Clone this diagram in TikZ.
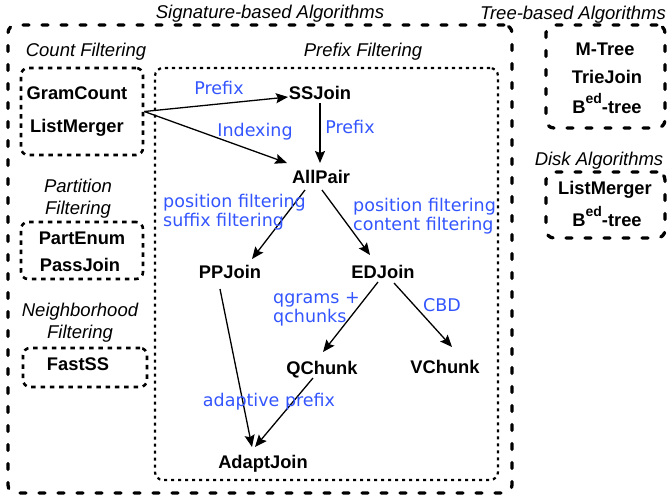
\documentclass[tikz,border=0pt]{standalone}
\usepackage{fontspec}
\setmainfont{Liberation Sans}
\newfontfamily\lblfont{DejaVu Sans}
\usetikzlibrary{arrows.meta}
\definecolor{lblblue}{RGB}{51,85,255}
\tikzset{
  heavybox/.style={draw, line width=3.3pt, dash pattern=on 6pt off 13pt, line cap=round, rounded corners=8pt, inner sep=0pt},
  medbox/.style={draw, line width=2.6pt, dash pattern=on 4.5pt off 4.8pt, rounded corners=7pt, inner sep=0pt},
  dotbox/.style={draw, line width=2.2pt, dash pattern=on 3.2pt off 3.8pt, rounded corners=8pt, inner sep=0pt},
  algo/.style={font=\fontsize{18.3}{20}\selectfont\bfseries, inner sep=0pt, text height=13.2pt, text depth=0pt},
  ttl/.style={font=\fontsize{18.5}{22}\selectfont\itshape, inner sep=0pt, align=center},
  ttlone/.style={ttl, text height=13.3pt, text depth=0pt},
  lbl/.style={font=\lblfont\fontsize{17.5}{19}\selectfont, text=lblblue, inner sep=0pt, align=left},
  lblone/.style={lbl, text height=12.7pt, text depth=0pt},
  arr/.style={-{Stealth[length=12pt,width=10pt,inset=2pt]}, line width=1.3pt},
}
\newcommand{\Bed}{B\raisebox{0.55em}{\fontsize{14}{14}\selectfont ed}-tree}
\begin{document}
\begin{tikzpicture}[x=1pt,y=-1pt]
\useasboundingbox (0,0) rectangle (669,499);
% boxes
\node[heavybox, minimum width=504pt, minimum height=468pt] (sigbox) at (260,259) {};
\node[heavybox, minimum width=119pt, minimum height=103pt] (treebox) at (605.5,76.5) {};
\node[heavybox, minimum width=119pt, minimum height=66pt] (diskbox) at (605.5,205) {};
\node[dotbox, minimum width=343pt, minimum height=412pt] (prefixbox) at (326.5,274) {};
\node[medbox, minimum width=122pt, minimum height=87pt] (countbox) at (82,111.5) {};
\node[medbox, minimum width=122pt, minimum height=57pt] (partbox) at (82,250.5) {};
\node[medbox, minimum width=124pt, minimum height=39pt] (fastbox) at (85,367.5) {};
% titles
\node[ttlone] (tsig) at (270,12) {Signature-based Algorithms};
\node[ttlone] (ttree) at (573,13) {Tree-based Algorithms};
\node[ttlone] (tdisk) at (599,159) {Disk Algorithms};
\node[ttlone] (tprefix) at (363,50) {Prefix Filtering};
\node[ttlone] (tcount) at (86,50) {Count Filtering};
\node[ttl, anchor=north] (tpart) at (78,179.3) {Partition\\Filtering};
\node[ttl, anchor=north] (tneigh) at (80,303.3) {Neighborhood\\Filtering};
% algorithms
\node[algo] (gramcount) at (77,93) {GramCount};
\node[algo] (listmerger) at (77,126) {ListMerger};
\node[algo] (partenum) at (82,238) {PartEnum};
\node[algo] (passjoin) at (80,265) {PassJoin};
\node[algo] (fastss) at (78,364) {FastSS};
\node[algo] (ssjoin) at (320,93) {SSJoin};
\node[algo] (allpair) at (321,177) {AllPair};
\node[algo] (ppjoin) at (230,272) {PPJoin};
\node[algo] (edjoin) at (383,272) {EDJoin};
\node[algo] (qchunk) at (322,368) {QChunk};
\node[algo] (vchunk) at (445,367) {VChunk};
\node[algo] (adaptjoin) at (263,462) {AdaptJoin};
\node[algo] (mtree) at (605,49) {M-Tree};
\node[algo] (triejoin) at (607,77) {TrieJoin};
\node[algo] (bedtree) at (607,107) {\Bed};
\node[algo] (listmerger2) at (605,188) {ListMerger};
\node[algo] (bedtree2) at (607,220) {\Bed};
% arrows
\draw[arr] (countbox.east) -- ([shift={(-32,4)}]ssjoin.center);
\draw[arr] (countbox.east) -- ([shift={(-34,-14)}]allpair.center);
\draw[arr] ([shift={(0,10)}]ssjoin.center) -- ([shift={(-1,-14)}]allpair.center);
\draw[arr] ([shift={(-16,13)}]allpair.center) -- ([shift={(22,-13)}]ppjoin.center);
\draw[arr] ([shift={(1,13)}]allpair.center) -- ([shift={(-13,-17)}]edjoin.center);
\draw[arr] ([shift={(-5,10)}]edjoin.center) -- ([shift={(1,-16)}]qchunk.center);
\draw[arr] ([shift={(11,11)}]edjoin.center) -- ([shift={(7,-20)}]vchunk.center);
\draw[arr] ([shift={(-10,17)}]ppjoin.center) -- ([shift={(-11,-15)}]adaptjoin.center);
\draw[arr] ([shift={(-9,10)}]qchunk.center) -- ([shift={(-8,-15)}]adaptjoin.center);
% labels
\node[lblone] (lprefix1) at (219,88) {Prefix};
\node[lblone] (lindex) at (255,130) {Indexing};
\node[lblone] (lprefix2) at (350,127) {Prefix};
\node[lbl, anchor=north west] (lpos1) at (163,194) {position filtering\\suffix filtering};
\node[lbl, anchor=north west] (lpos2) at (353,197.5) {position filtering\\content filtering};
\node[lbl, anchor=north west] (lqgram) at (273,292.5) {qgrams +\\qchunks};
\node[lblone] (lcbd) at (442,305) {CBD};
\node[lblone] (ladapt) at (269,400) {adaptive prefix};
\end{tikzpicture}
\end{document}
